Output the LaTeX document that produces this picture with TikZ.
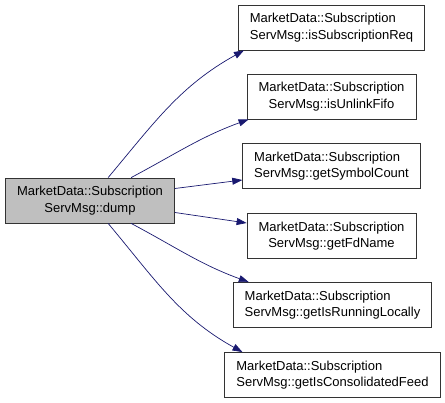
\documentclass[tikz,border=0pt]{standalone}
\usepackage{fontspec}
\setmainfont{Liberation Sans}
\usetikzlibrary{arrows.meta,positioning}
\definecolor{edgeblue}{HTML}{191970}
\tikzset{font=\fontsize{13}{16.5}\selectfont}
\tikzstyle{fn}=[draw=black!80,fill=white,line width=0.8pt,inner xsep=11.5pt,inner ysep=0pt,minimum height=45pt,align=center]
\tikzstyle{fnl}=[fn,align=left]
\tikzstyle{cur}=[fn,fill=black!25]
\begin{document}
\begin{tikzpicture}
  [x=1pt,y=-1pt]
\useasboundingbox (0,0) rectangle (445,403);
\node[cur] (dump) at (90,200.5) {MarketData::Subscription\\ServMsg::dump};
\node[fnl] (n1) at (331.5,27.5) {MarketData::Subscription\\ServMsg::isSubscriptionReq};
\node[fn] (n2) at (331.5,96.5) {MarketData::Subscription\\ServMsg::isUnlinkFifo};
\node[fnl] (n3) at (331.5,166) {MarketData::Subscription\\ServMsg::getSymbolCount};
\node[fn] (n4) at (331.5,236) {MarketData::Subscription\\ServMsg::getFdName};
\node[fnl] (n5) at (332.5,305) {MarketData::Subscription\\ServMsg::getIsRunningLocally};
\node[fnl] (n6) at (332.5,375) {MarketData::Subscription\\ServMsg::getIsConsolidatedFeed};
\path[->,>={Triangle[length=10pt,width=7pt]},edgeblue,line width=0.7pt]
([xshift=103pt]dump.north west) edge[out=50,in=209] ([xshift=6pt]n1.south west)
([xshift=126pt]dump.north west) edge[out=28,in=200] ([xshift=2pt]n2.south west)
([yshift=12pt]dump.east) edge ([yshift=-14pt]n3.west)
([yshift=-12pt]dump.east) edge ([yshift=13pt]n4.west)
([xshift=126pt]dump.south west) edge[out=-28,in=160] ([xshift=16pt]n5.north west)
([xshift=103pt]dump.south west) edge[out=-50,in=151] ([xshift=18pt]n6.north west);
\end{tikzpicture}
\end{document}
